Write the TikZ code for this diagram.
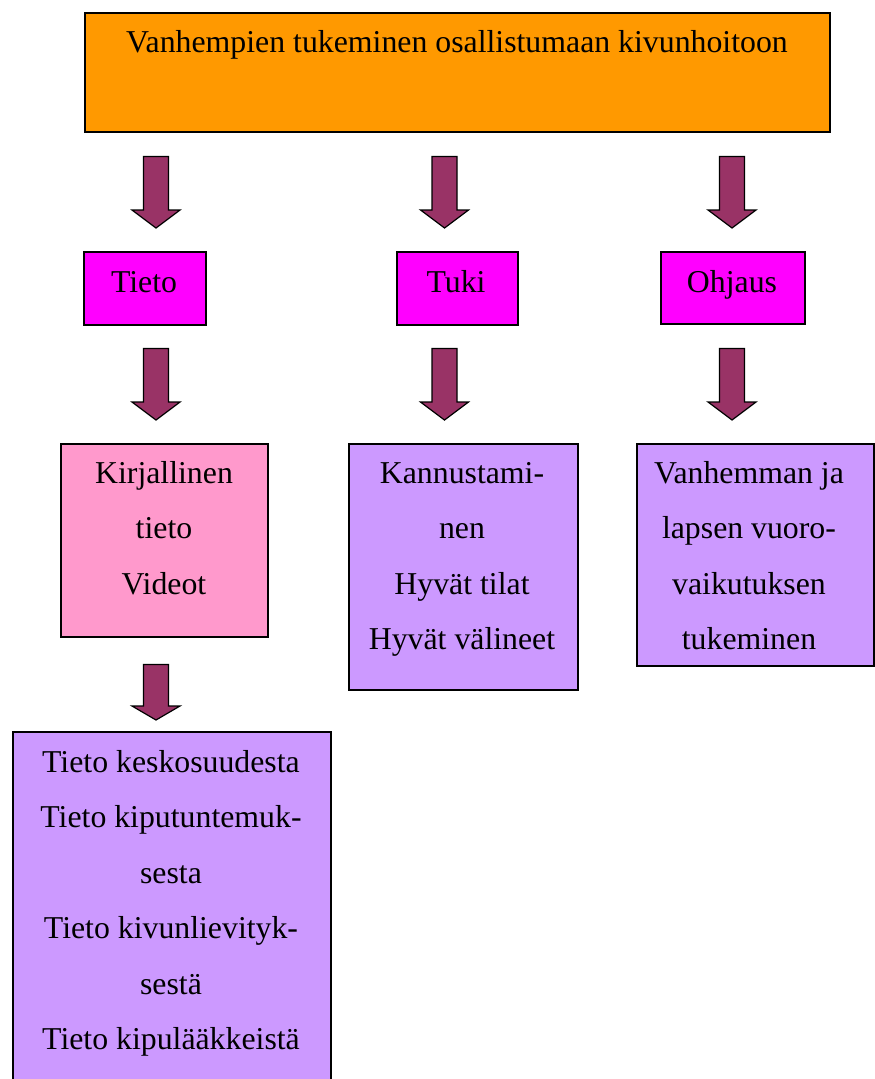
\documentclass[tikz,border=0pt]{standalone}
\usepackage{fontspec}
\setmainfont{Liberation Serif}
\usetikzlibrary{calc}
\definecolor{orangebox}{HTML}{FF9900}
\definecolor{magentabox}{HTML}{FF00FF}
\definecolor{pinkbox}{HTML}{FF99CC}
\definecolor{lavenderbox}{HTML}{CC99FF}
\definecolor{plumarrow}{HTML}{993366}
\newcommand\stacklines[1]{\begin{tabular}[t]{@{}c@{}}#1\end{tabular}}
\newcommand\blockarrow[3]{%
  \draw[barrow] let \p1=(#1), \p2=(#2) in
    (\x1-12.5pt,\y1) -- (\x1+12.5pt,\y1) -- (\x1+12.5pt,\y2+#3) --
    (\x1+24pt,\y2+#3) -- (\x1,\y2) -- (\x1-24pt,\y2+#3) --
    (\x1-12.5pt,\y2+#3) -- cycle;}
\tikzset{
  boxstyle/.style={draw=black, line width=1.5pt, rectangle, inner sep=0pt,
    anchor=north west},
  txt/.style={font=\fontsize{31.8}{55.5}\selectfont, inner sep=0pt, anchor=base},
  barrow/.style={draw=black, line width=1.2pt, fill=plumarrow, line join=miter}
}
\begin{document}
\begin{tikzpicture}[x=1pt, y=-1pt]
\useasboundingbox (0,0) rectangle (875,1079);
\clip (0,0) rectangle (875,1079);
% boxes
\node[boxstyle, fill=orangebox, minimum width=745pt, minimum height=119pt] (top) at (84,12) {};
\node[boxstyle, fill=magentabox, minimum width=122pt, minimum height=73pt] (tieto) at (83,251) {};
\node[boxstyle, fill=magentabox, minimum width=121pt, minimum height=73pt] (tuki) at (396,251) {};
\node[boxstyle, fill=magentabox, minimum width=144pt, minimum height=72pt] (ohjaus) at (660,251) {};
\node[boxstyle, fill=pinkbox, minimum width=207pt, minimum height=193pt] (kirj) at (60,443) {};
\node[boxstyle, fill=lavenderbox, minimum width=229pt, minimum height=246pt] (kann) at (348,443) {};
\node[boxstyle, fill=lavenderbox, minimum width=237pt, minimum height=222pt] (vanh) at (636,443) {};
\node[boxstyle, fill=lavenderbox, minimum width=318pt, minimum height=370pt] (lista) at (12,731) {};
% texts
\node[txt] (toptxt) at (457,52) {Vanhempien tukeminen osallistumaan kivunhoitoon};
\node[txt] (tietotxt) at (144,292) {Tieto};
\node[txt] (tukitxt) at (456,292) {Tuki};
\node[txt] (ohjaustxt) at (732,292) {Ohjaus};
\node[txt] (kirjtxt) at (164,483) {\stacklines{Kirjallinen\\tieto\\Videot}};
\node[txt] (kanntxt) at (462,483) {\stacklines{Kannustami-\\nen\\Hyvät tilat\\Hyvät välineet}};
\node[txt] (vanhtxt) at (749,483) {\stacklines{Vanhemman ja\\lapsen vuoro-\\vaikutuksen\\tukeminen}};
\node[txt] (listatxt) at (171,772) {\stacklines{Tieto keskosuudesta\\Tieto kiputuntemuk-\\sesta\\Tieto kivunlievityk-\\sestä\\Tieto kipulääkkeistä}};
% arrow columns
\coordinate (c1) at (156,0);
\coordinate (c2) at (444.5,0);
\coordinate (c3) at (732,0);
% arrow end points
\coordinate (a1s) at ($(c1 |- top.south)+(0,24)$);
\coordinate (a1e) at ($(c1 |- tieto.north)+(0,-23)$);
\coordinate (a2s) at ($(c2 |- top.south)+(0,24)$);
\coordinate (a2e) at ($(c2 |- tuki.north)+(0,-23)$);
\coordinate (a3s) at ($(c3 |- top.south)+(0,24)$);
\coordinate (a3e) at ($(c3 |- ohjaus.north)+(0,-23)$);
\coordinate (b1s) at ($(c1 |- tieto.south)+(0,23)$);
\coordinate (b1e) at ($(c1 |- kirj.north)+(0,-23)$);
\coordinate (b2s) at ($(c2 |- tuki.south)+(0,23)$);
\coordinate (b2e) at ($(c2 |- kann.north)+(0,-23)$);
\coordinate (b3s) at ($(c3 |- ohjaus.south)+(0,24)$);
\coordinate (b3e) at ($(c3 |- vanh.north)+(0,-23)$);
\coordinate (d1s) at ($(c1 |- kirj.south)+(0,27)$);
\coordinate (d1e) at ($(c1 |- lista.north)+(0,-11)$);
% arrows
\blockarrow{a1s}{a1e}{18pt}
\blockarrow{a2s}{a2e}{18pt}
\blockarrow{a3s}{a3e}{18pt}
\blockarrow{b1s}{b1e}{18pt}
\blockarrow{b2s}{b2e}{18pt}
\blockarrow{b3s}{b3e}{18pt}
\blockarrow{d1s}{d1e}{14pt}
\end{tikzpicture}
\end{document}
